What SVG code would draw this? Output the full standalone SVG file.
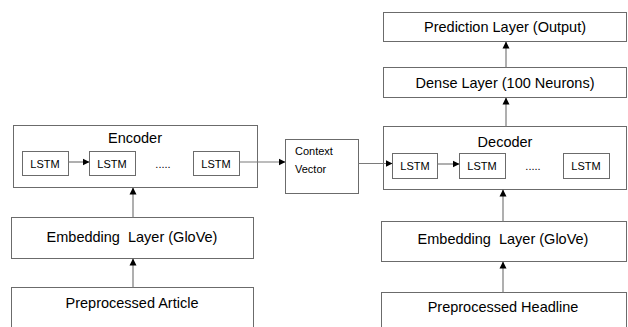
<svg xmlns="http://www.w3.org/2000/svg" width="628" height="327" viewBox="0 0 628 327">
<defs>
<marker id="ah" markerWidth="8" markerHeight="8" refX="7" refY="4" orient="auto" markerUnits="userSpaceOnUse">
<path d="M0,0.5 L7,4 L0,7.5 Z" fill="#000"/>
</marker>
</defs>
<style>
rect{fill:#fff;stroke:#6b6b6b;stroke-width:1}
text{font-family:"Liberation Sans",Arial,sans-serif;fill:#000;text-anchor:middle}
.big{font-size:14.5px}
.sm{font-size:11px}
.con{stroke:#7a7a7a;stroke-width:1.2;fill:none;marker-end:url(#ah)}
</style>
<rect x="0" y="0" width="628" height="327" style="fill:#fff;stroke:none"/>
<g id="enc">
<rect x="13.5" y="125.5" width="244" height="62"/>
<text class="big" x="135" y="143">Encoder</text>
</g>
<g id="elstm1"><rect x="22.5" y="151.5" width="46" height="24"/><text class="sm" x="45" y="167.5">LSTM</text></g>
<g id="elstm2"><rect x="89.5" y="151.5" width="46" height="24"/><text class="sm" x="112" y="167.5">LSTM</text></g>
<g id="edots"><text class="sm" x="163" y="167.5">.....</text></g>
<g id="elstm3"><rect x="193.5" y="151.5" width="46" height="24"/><text class="sm" x="216" y="167.5">LSTM</text></g>
<g id="ctx">
<rect x="285.5" y="139.5" width="73" height="54"/>
<text class="sm" x="295" y="155" style="text-anchor:start">Context</text>
<text class="sm" x="295" y="173" style="text-anchor:start">Vector</text>
</g>
<g id="dec">
<rect x="383.5" y="126.5" width="243" height="63"/>
<text class="big" x="505" y="147">Decoder</text>
</g>
<g id="dlstm1"><rect x="392.5" y="153.5" width="45" height="25"/><text class="sm" x="415" y="170">LSTM</text></g>
<g id="dlstm2"><rect x="459.5" y="153.5" width="46" height="25"/><text class="sm" x="482" y="170">LSTM</text></g>
<g id="ddots"><text class="sm" x="533" y="170">.....</text></g>
<g id="dlstm3"><rect x="563.5" y="153.5" width="46" height="25"/><text class="sm" x="586" y="170">LSTM</text></g>
<g id="dense">
<rect x="383.5" y="67.5" width="243" height="30"/>
<text class="big" x="505" y="87.5">Dense Layer (100 Neurons)</text>
</g>
<g id="pred">
<rect x="383.5" y="12.5" width="243" height="29"/>
<text class="big" x="505" y="31.5">Prediction Layer (Output)</text>
</g>
<g id="emb1">
<rect x="11.5" y="217.5" width="242" height="41"/>
<text class="big" x="132" y="242">Embedding&#160; Layer (GloVe)</text>
</g>
<g id="art">
<rect x="11.5" y="287.5" width="242" height="45"/>
<text class="big" x="132" y="307.5">Preprocessed Article</text>
</g>
<g id="emb2">
<rect x="381.5" y="221.5" width="245" height="40"/>
<text class="big" x="503" y="244">Embedding&#160; Layer (GloVe)</text>
</g>
<g id="head">
<rect x="381.5" y="292.5" width="245" height="40"/>
<text class="big" x="503" y="311.5">Preprocessed Headline</text>
</g>
<g id="connectors">
<path class="con" d="M68.5,162 L89.5,162"/>
<path class="con" d="M239.5,162 L285.5,162"/>
<path class="con" d="M358.5,163.5 L392.5,163.5"/>
<path class="con" d="M437.5,164 L459.5,164"/>
<path class="con" d="M133,217.5 L133,187.5"/>
<path class="con" d="M133,287.5 L133,258.5"/>
<path class="con" d="M503,221.5 L503,189.5"/>
<path class="con" d="M503,292.5 L503,261.5"/>
<path class="con" d="M506,126.5 L506,97.5"/>
<path class="con" d="M506,67.5 L506,41.5"/>
</g>
</svg>
